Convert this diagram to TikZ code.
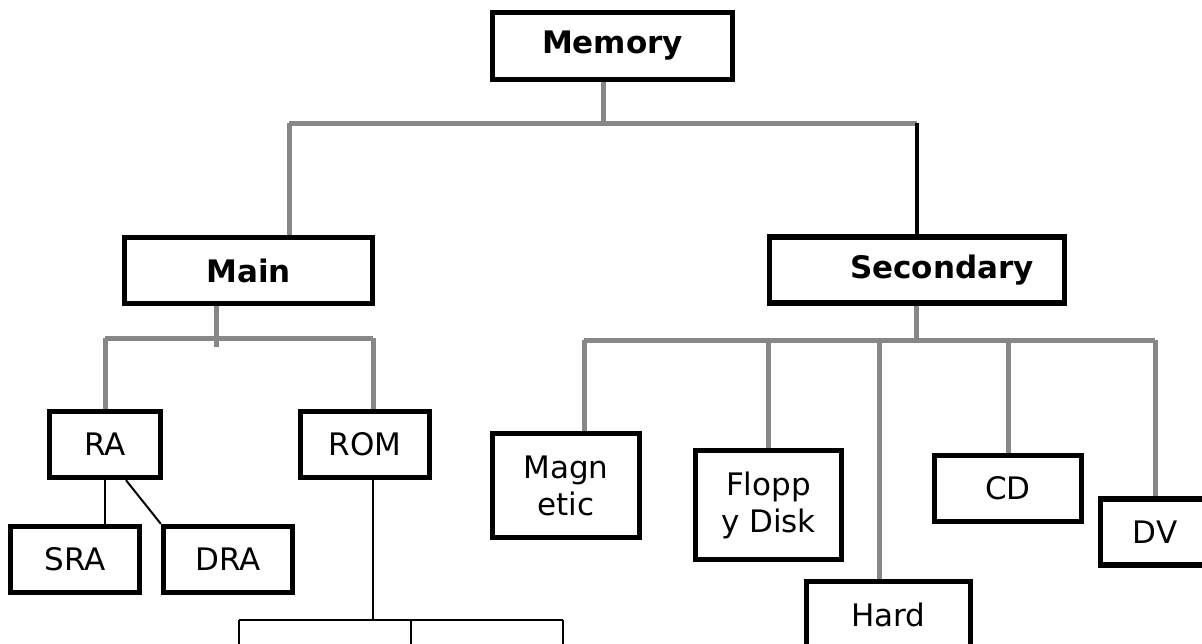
\documentclass[tikz,border=0pt]{standalone}
\usepackage{fontspec}
\setmainfont{DejaVu Sans}
\usepackage{xcolor}
\usetikzlibrary{positioning}
\definecolor{LinkGray}{HTML}{878787}

\begin{document}
\begin{tikzpicture}[x=0.5pt, y=-0.5pt,
  font=\fontsize{15.5}{18.5}\selectfont,
  membox/.style={draw, line width=2.7pt, fill=white, align=center, inner sep=0pt, minimum height=33pt},
  headbox/.style={membox, font=\fontsize{15.5}{18.5}\selectfont\bfseries},
  graylink/.style={draw=LinkGray, line width=2.5pt},
  blacklink/.style={draw=black, line width=2.3pt},
  thinlink/.style={draw=black, line width=1pt}]
\useasboundingbox (0,0) rectangle (1202,643);
\clip (0,0) rectangle (1202,643);

% level 0 and 1
\node[headbox, minimum width=120pt, minimum height=33.5pt] (memory) at (612.5,46) {Memory};
\node[headbox, minimum width=124pt] (main) at (248.5,270.5) {Main};
\node[headbox, minimum width=147.5pt] (secondary) at (917,270) {\hspace*{25pt}Secondary};

% main memory
\node[membox, minimum width=55.5pt] (ra) at (105,444.5) {RA};
\node[membox, minimum width=64.5pt] (rom) at (365,444.5) {ROM};
\node[membox, minimum width=64.5pt] (sra) at (75,559.5) {SRA};
\node[membox, minimum width=64.5pt] (dra) at (228,559.5) {DRA};

% secondary memory
\node[membox, minimum width=73.5pt, minimum height=52pt] (magnetic) at (566,485.5) {Magn\\etic};
\node[membox, minimum width=73pt, minimum height=54.5pt] (floppy) at (768.5,505) {Flopp\\y Disk};
\node[membox, minimum width=82pt, anchor=north, text height=22.4pt, text depth=40pt] (hard) at (888.5,579) {Hard};
\node[membox, minimum width=73.5pt] (cd) at (1008,488.5) {CD};
\node[membox, minimum width=54.5pt] (dv) at (1155,532) {DV};

% junctions
\coordinate (memJ) at (603,123);
\coordinate (mainIn) at ([xshift=20.25pt]main.north);
\coordinate (mainJ) at (216,338);
\coordinate (romIn) at ([xshift=4pt]rom.north);
\coordinate (secJ) at (916,340);
\coordinate (magIn) at ([xshift=9pt]magnetic.north);
\coordinate (hardIn) at ([xshift=-4.75pt]hard.north);
\coordinate (romJ) at (373,620);
\coordinate (romA) at (239,650);
\coordinate (romB) at (411,650);
\coordinate (romC) at (563,650);

\draw[graylink] (memory.south -| memJ) -- (memJ);
\draw[graylink] (memJ -| mainIn) -- (memJ -| secondary.north);
\draw[graylink] (memJ -| mainIn) -- (mainIn);
\draw[blacklink] (memJ -| secondary.north) -- (secondary.north);

\draw[graylink] (main.south -| mainJ) -- ([yshift=-4.5pt]mainJ);
\draw[graylink] (mainJ -| ra.north) -- (mainJ -| romIn);
\draw[graylink] (mainJ -| ra.north) -- (ra.north);
\draw[graylink] (mainJ -| romIn) -- (romIn);

\draw[graylink] (secondary.south -| secJ) -- (secJ);
\draw[graylink] (secJ -| magIn) -- (secJ -| dv.north);
\draw[graylink] (secJ -| magIn) -- (magIn);
\draw[graylink] (secJ -| floppy.north) -- (floppy.north);
\draw[graylink] (secJ -| hardIn) -- (hardIn);
\draw[graylink] (secJ -| cd.north) -- (cd.north);
\draw[graylink] (secJ -| dv.north) -- (dv.north);

\draw[thinlink] (ra.south) -- (ra.south |- sra.north);
\draw[thinlink] ([xshift=10.5pt]ra.south) -- (dra.north west);
\draw[thinlink] (rom.south -| romJ) -- (romJ);
\draw[thinlink] (romJ -| romA) -- (romJ -| romC);
\draw[thinlink] (romJ -| romA) -- (romA);
\draw[thinlink] (romJ -| romB) -- (romB);
\draw[thinlink] (romJ -| romC) -- (romC);
\end{tikzpicture}
\end{document}
